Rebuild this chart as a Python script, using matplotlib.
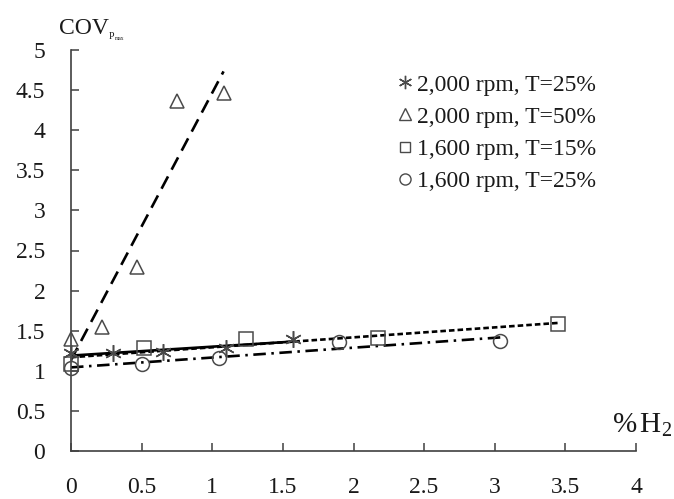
import numpy as np
import matplotlib
matplotlib.use('Agg')
import matplotlib.pyplot as plt
from matplotlib.lines import Line2D

plt.rcParams['font.family'] = ['Liberation Serif', 'DejaVu Serif']
plt.rcParams['mathtext.fontset'] = 'custom'
plt.rcParams['mathtext.rm'] = 'Liberation Serif'
plt.rcParams['mathtext.it'] = 'Liberation Serif:italic'
plt.rcParams['lines.scale_dashes'] = False

# readings taken from the reference chart (x = %H2, y = COV of Pmax)
h2_a = [0.0, 0.30, 0.65, 1.10, 1.57]
cov_a = [1.22, 1.22, 1.23, 1.28, 1.40]      # 2,000 rpm, T=25%

h2_b = [0.0, 0.22, 0.47, 0.75, 1.08]
cov_b = [1.40, 1.54, 2.30, 4.36, 4.47]      # 2,000 rpm, T=50%

h2_c = [0.0, 0.52, 1.24, 2.17, 3.45]
cov_c = [1.09, 1.28, 1.40, 1.41, 1.58]      # 1,600 rpm, T=15%

h2_d = [0.0, 0.50, 1.05, 1.90, 3.04]
cov_d = [1.03, 1.09, 1.16, 1.36, 1.37]      # 1,600 rpm, T=25%

labels = ['2,000 rpm, T=25%', '2,000 rpm, T=50%',
          '1,600 rpm, T=15%', '1,600 rpm, T=25%']

x_ticks = [0, 0.5, 1, 1.5, 2, 2.5, 3, 3.5, 4]
x_ticklabels = ['0', '0.5', '1', '1.5', '2', '2.5', '3', '3.5', '4']
y_ticks = [0, 0.5, 1, 1.5, 2, 2.5, 3, 3.5, 4, 4.5, 5]
y_ticklabels = ['0', '0.5', '1', '1.5', '2', '2.5', '3', '3.5', '4', '4.5', '5']

series = [
    (h2_a, cov_a, dict(marker=(6, 2, 0), markersize=12), 'solid'),
    (h2_b, cov_b, dict(marker='^', markersize=10.5), (0, (10, 5.5))),
    (h2_c, cov_c, dict(marker='s', markersize=9.5), (0, (4, 2.2))),
    (h2_d, cov_d, dict(marker='o', markersize=10), (0, (9, 4, 1.8, 4))),
]

fig = plt.figure(figsize=(6.74, 4.99), dpi=100)
ax = fig.add_axes([71 / 674, 48 / 499, 565 / 674, 401 / 499])

marker_color = '#4a4a4a'
handles = []
for x, y, mk, ls in series:
    x = np.asarray(x)
    y = np.asarray(y)
    # linear trendline, like the spreadsheet did
    slope, icpt = np.polyfit(x, y, 1)
    xs = np.array([x.min(), x.max()])
    ax.plot(xs, icpt + slope * xs, color='black', lw=1.9, linestyle=ls,
            zorder=2)
    ax.plot(x, y, linestyle='none', markerfacecolor='none',
            markeredgecolor=marker_color, markeredgewidth=1.1, zorder=3,
            clip_on=False, **mk)
    h = Line2D([], [], linestyle='none', markerfacecolor='none',
               markeredgecolor=marker_color, markeredgewidth=1.0,
               marker=mk['marker'], markersize=mk['markersize'] * 0.8)
    handles.append(h)

ax.set_xlim(0, 4)
ax.set_ylim(0, 5)
ax.set_xticks(x_ticks)
ax.set_xticklabels(x_ticklabels)
ax.set_yticks(y_ticks)
ax.set_yticklabels(y_ticklabels)

for side in ['top', 'right']:
    ax.spines[side].set_visible(False)
for side in ['left', 'bottom']:
    ax.spines[side].set_color('#404040')
    ax.spines[side].set_linewidth(1.2)

ax.tick_params(axis='both', direction='in', length=6, width=1.1,
               color='#404040', labelsize=17, labelcolor='#1a1a1a')
ax.tick_params(axis='x', pad=18.5)
ax.tick_params(axis='y', pad=18.5)

leg = ax.legend(handles, labels, loc='upper left',
                bbox_to_anchor=(0.577, 0.94), frameon=False, fontsize=17,
                handlelength=0.7, handletextpad=0.15, labelspacing=0.45,
                borderpad=0, borderaxespad=0)
for t in leg.get_texts():
    t.set_color('#1a1a1a')

# axis titles placed like the original
fig.text(59 / 674, (499 - 34) / 499, 'COV', fontsize=17, color='#1a1a1a',
         ha='left', va='baseline')
fig.text(109 / 674, (499 - 39) / 499, 'P', fontsize=7, color='#1a1a1a',
         ha='left', va='baseline')
fig.text(115 / 674, (499 - 40) / 499, 'max', fontsize=4, color='#1a1a1a',
         ha='left', va='baseline')
fig.text(612 / 674, (499 - 433) / 499, r'$\%\,\mathrm{H}_2$', fontsize=21,
         color='#1a1a1a', ha='left', va='baseline')

fig.savefig('out.png', dpi=100)
plt.close(fig)
